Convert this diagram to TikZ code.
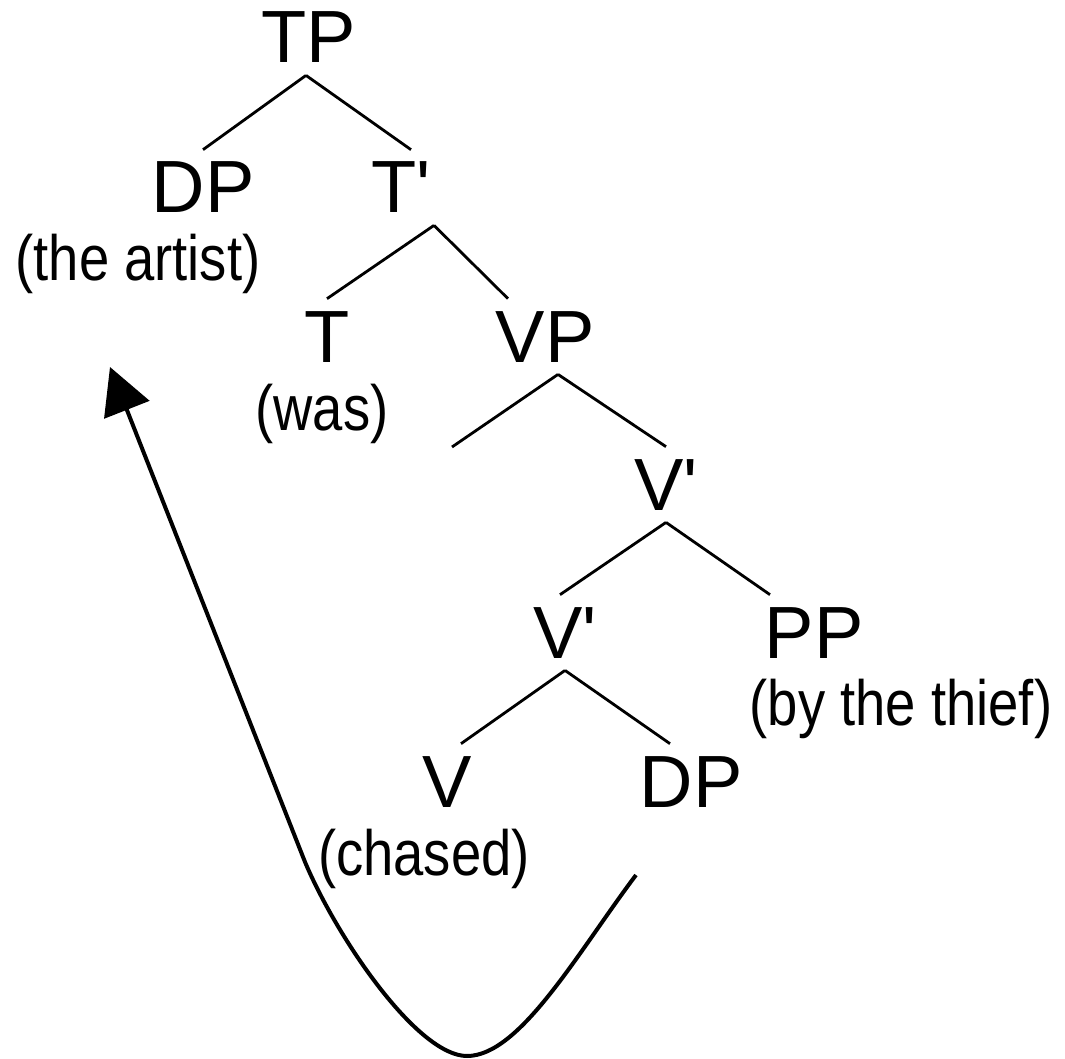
\documentclass[tikz,border=0pt]{standalone}
\usepackage{fontspec}
\setmainfont{Liberation Sans}
\newfontfamily\glossfont[FakeStretch=0.85]{Liberation Sans}
\usetikzlibrary{arrows.meta}

\newcommand{\br}{\textquotesingle}

\begin{document}
\begin{tikzpicture}[x=0.5pt,y=-0.5pt,
  cat/.style={anchor=base,inner xsep=0pt,inner ysep=6pt,font=\fontsize{37pt}{40pt}\selectfont},
  gloss/.style={anchor=base,inner sep=0pt,font=\glossfont\fontsize{32pt}{36pt}\selectfont},
  branch/.style={line width=1.4pt},
  move/.style={line width=2pt,-{Triangle[length=23pt,width=24pt]}}]

\useasboundingbox (0,0) rectangle (1065,1059);

% labels
\node[cat] (TP) at (309,63) {TP};
\node[cat] (DPa) at (203,213) {DP};
\node[cat] (Tbar) at (401,213) {T\br};
\node[cat] (T) at (327,362) {T};
\node[cat] (VP) at (545,362) {VP};
\node[cat] (Vbar1) at (666,510) {V\br};
\node[cat] (Vbar2) at (565,658) {V\br};
\node[cat] (PP) at (814,658) {PP};
\node[cat] (V) at (447,807) {V};
\node[cat] (DPb) at (691,807) {DP};

\node[gloss] (artist) at (138,280) {(the artist)};
\node[gloss] (was) at (322,430) {(was)};
\node[gloss] (thief) at (901,725) {(by the thief)};
\node[gloss] (chased) at (424,875) {(chased)};

% empty spec of VP
\coordinate (spec) at (452,447);

% branches
\draw[branch] ([xshift=-1.5pt]TP.south) -- (DPa.north);
\draw[branch] ([xshift=-1.5pt]TP.south) -- ([xshift=5pt]Tbar.north);
\draw[branch] ([xshift=16.5pt]Tbar.south) -- (T.north);
\draw[branch] ([xshift=16.5pt]Tbar.south) -- ([xshift=-18.5pt]VP.north);
\draw[branch] ([xshift=6.5pt]VP.south) -- (spec);
\draw[branch] ([xshift=6.5pt]VP.south) -- (Vbar1.north);
\draw[branch] (Vbar1.south) -- ([xshift=-2.5pt]Vbar2.north);
\draw[branch] (Vbar1.south) -- ([xshift=-22pt]PP.north);
\draw[branch] (Vbar2.south) -- ([xshift=7pt]V.north);
\draw[branch] (Vbar2.south) -- ([xshift=-10.5pt]DPb.north);

% movement of the object
\coordinate (trace) at (636,875);
\coordinate (landing) at (110,367);
\draw[move] (trace) .. controls (578,952) and (520,1056) .. (467,1056)
  .. controls (418,1056) and (338,940) .. (305,862) -- (landing);

\end{tikzpicture}
\end{document}
